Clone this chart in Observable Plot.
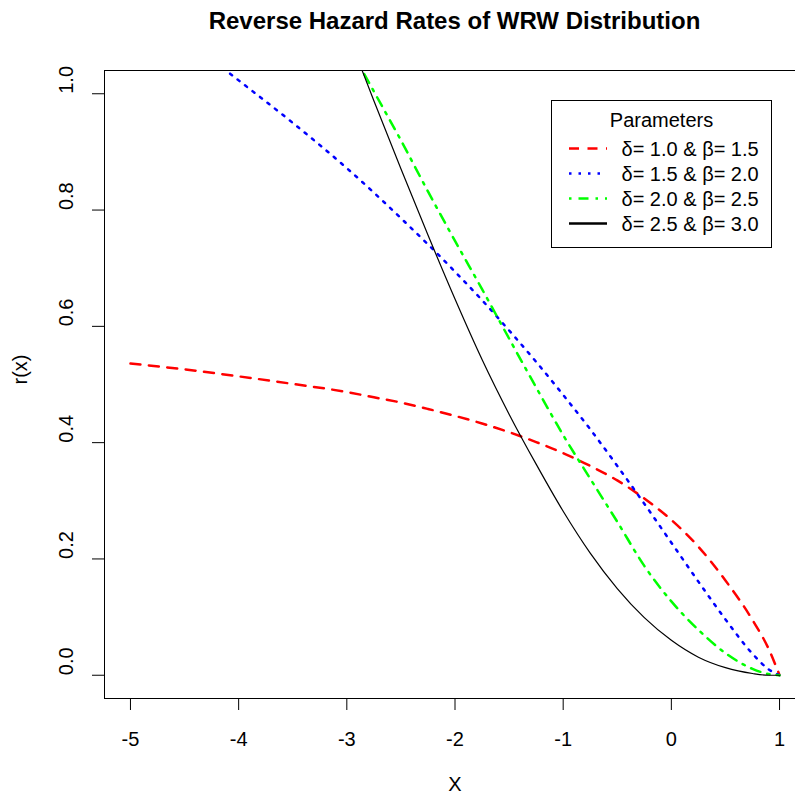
<!DOCTYPE html>
<html><head><meta charset="utf-8">
<script src="https://cdn.jsdelivr.net/npm/d3@7"></script>
<script src="https://cdn.jsdelivr.net/npm/@observablehq/plot@0.6"></script>
<style>
html,body{margin:0;padding:0;background:#fff;overflow:hidden;}
#wrap{position:relative;width:795px;height:794px;overflow:hidden;font-family:"Liberation Sans",Arial,sans-serif;background:#fff;}
#chart{position:absolute;left:0;top:0;width:810px;height:794px;}
#chart svg{max-width:none !important;width:810px;height:794px;}
#title{position:absolute;left:104px;width:701px;top:7px;text-align:center;font-weight:bold;font-size:24px;line-height:28px;color:#000;white-space:nowrap;}
#legend{position:absolute;left:0;top:0;pointer-events:none;}
</style></head>
<body>
<div id="wrap"><div id="chart"></div><div id="title"></div><svg id="legend" width="795" height="794"></svg></div>
<script>
// ---- data ----
const titleText = "Reverse Hazard Rates of WRW Distribution";
const xLabel = "X";
const yLabel = "r(x)";
const legendTitle = "Parameters";
const xTicks = [-5, -4, -3, -2, -1, 0, 1];
const yTicks = [0, 0.2, 0.4, 0.6, 0.8, 1.0];
const xs = [-5, -4.5, -4, -3.5, -3, -2.75, -2.5, -2.25, -2, -1.75, -1.5, -1.25, -1, -0.75, -0.5, -0.25, 0, 0.25, 0.5, 0.75, 0.9, 1];
const seriesLabels = ["δ= 1.0 & β= 1.5", "δ= 1.5 & β= 2.0", "δ= 2.0 & β= 2.5", "δ= 2.5 & β= 3.0"];
const rRed   = [0.536, 0.526, 0.514, 0.501, 0.487, 0.478, 0.469, 0.458, 0.446, 0.433, 0.418, 0.401, 0.382, 0.360, 0.335, 0.304, 0.267, 0.221, 0.163, 0.095, 0.045, 0.0];
const rBlue  = [1.160, 1.095, 1.023, 0.950, 0.872, 0.830, 0.786, 0.741, 0.694, 0.645, 0.593, 0.539, 0.482, 0.423, 0.360, 0.295, 0.228, 0.161, 0.096, 0.037, 0.010, 0.0];
const rGreen = [null, null, null, null, 1.088, 1.004, 0.920, 0.832, 0.747, 0.664, 0.579, 0.495, 0.413, 0.338, 0.264, 0.188, 0.127, 0.078, 0.038, 0.011, 0.002, 0.0];
const rBlack = [null, null, null, null, 1.108, 0.988, 0.871, 0.757, 0.647, 0.543, 0.449, 0.363, 0.282, 0.210, 0.149, 0.099, 0.060, 0.031, 0.013, 0.003, 0.0, 0.0];

// ---- styles ----
const seriesValues = [rRed, rBlue, rGreen, rBlack];
const styles = [
  {stroke: "#FF0000", strokeWidth: 2.5, dash: "10,8.5", legendWidth: 2.5},
  {stroke: "#0000FF", strokeWidth: 2.5, dash: "2.5,7", legendWidth: 2.5},
  {stroke: "#00FF00", strokeWidth: 2.5, dash: "2.5,7,10,7", legendWidth: 2.5},
  {stroke: "#000000", strokeWidth: 1.2, dash: null, legendWidth: 2.5}
];

const lineMarks = seriesValues.map((vals, i) => {
  const rows = xs.map((x, j) => ({x, r: vals[j]})).filter(d => d.r !== null);
  const s = styles[i];
  const opts = {x: "x", y: "r", stroke: s.stroke, strokeWidth: s.strokeWidth, curve: "monotone-x", clip: true};
  if (s.dash) opts.strokeDasharray = s.dash;
  return Plot.line(rows, opts);
});

const chart = Plot.plot({
  width: 810, height: 794,
  marginTop: 70, marginBottom: 96, marginLeft: 104, marginRight: 5,
  x: {domain: [-5.24, 1.24]},
  y: {domain: [-0.04, 1.04]},
  style: {fontSize: "20px", fontFamily: "'Liberation Sans', Arial, sans-serif", color: "black", background: "white", maxWidth: "none"},
  marks: [
    ...lineMarks,
    Plot.frame({stroke: "black", strokeWidth: 1}),
    Plot.axisX({ticks: xTicks, tickSize: 12, tickPadding: 21, tickFormat: d => String(d), label: null, stroke: "black", fill: "black"}),
    Plot.axisY({ticks: yTicks, tickSize: 12, fill: "none", label: null, stroke: "black"}),
    Plot.text(yTicks, {y: d => d, text: d => d.toFixed(1), frameAnchor: "left", dx: -38, rotate: -90, lineAnchor: "middle", fill: "black"}),
    Plot.text([xLabel], {text: d => d, frameAnchor: "bottom", dy: 78, lineAnchor: "top", fill: "black"}),
    Plot.text([yLabel], {text: d => d, frameAnchor: "left", dx: -84, rotate: -90, lineAnchor: "middle", fill: "black"})
  ]
});
document.getElementById("chart").appendChild(chart);
document.getElementById("title").textContent = titleText;

// ---- legend (inside plot area, top right) ----
const lg = d3.select("#legend");
const box = {x: 551.5, y: 100.5, w: 220, h: 147};
lg.append("rect").attr("x", box.x).attr("y", box.y).attr("width", box.w).attr("height", box.h)
  .attr("fill", "white").attr("stroke", "black").attr("stroke-width", 1);
lg.append("text").attr("x", box.x + box.w / 2).attr("y", 127)
  .attr("text-anchor", "middle").attr("font-size", 20).attr("font-family", "'Liberation Sans', Arial, sans-serif")
  .text(legendTitle);
seriesLabels.forEach((lab, i) => {
  const cy = 148.5 + i * 25;
  const s = styles[i];
  const ln = lg.append("line").attr("x1", 569).attr("x2", 607).attr("y1", cy).attr("y2", cy)
    .attr("stroke", s.stroke).attr("stroke-width", s.legendWidth);
  if (s.dash) ln.attr("stroke-dasharray", s.dash);
  lg.append("text").attr("x", 621.5).attr("y", cy + 7).attr("font-size", 20)
    .attr("font-family", "'Liberation Sans', Arial, sans-serif").text(lab);
});
</script>
</body></html>
